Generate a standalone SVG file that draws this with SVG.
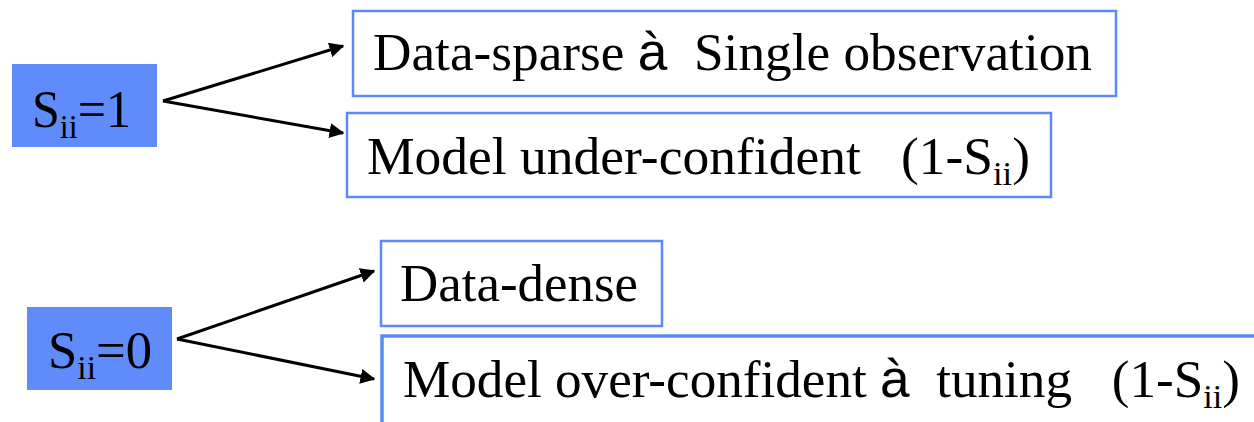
<svg xmlns="http://www.w3.org/2000/svg" width="1254" height="422" viewBox="0 0 1254 422">
<style>
.t{font-family:"Liberation Serif","Times New Roman",serif;font-size:53px;fill:#000}
.a{font-family:"Liberation Sans",Arial,sans-serif}
.sub{font-size:34px}
.src{fill:#5f8cfa;stroke:none}
.box{fill:#fff;stroke:#5b8af5;stroke-width:2.5}
.c{stroke:#000;stroke-width:3;fill:none;marker-end:url(#ah)}
</style>
<defs>
<marker id="ah" viewBox="0 0 10 10" refX="9" refY="5" markerWidth="5" markerHeight="5" orient="auto" markerUnits="strokeWidth">
<path d="M0,0 L10,5 L0,10 z" fill="#000"/>
</marker>
</defs>
<g id="connectors">
<path class="c" d="M163,101 L343,46"/>
<path class="c" d="M163,101 L343,133"/>
<path class="c" d="M177,339 L374,271"/>
<path class="c" d="M177,339 L374,379"/>
</g>
<g id="s1">
<rect class="src" x="12" y="64" width="145" height="83"/>
<text class="t" x="32" y="127" textLength="99" lengthAdjust="spacingAndGlyphs">S<tspan class="sub" dy="11">ii</tspan><tspan dy="-11">=1</tspan></text>
</g>
<g id="sparse">
<rect class="box" x="353" y="11" width="763" height="85"/>
<text class="t" x="373" y="70" xml:space="preserve" textLength="719" lengthAdjust="spacingAndGlyphs">Data-sparse <tspan class="a">à</tspan>  Single observation</text>
</g>
<g id="under">
<rect class="box" x="347" y="113" width="704" height="84"/>
<text class="t" x="367" y="174" xml:space="preserve" textLength="663" lengthAdjust="spacingAndGlyphs">Model under-confident   (1-S<tspan class="sub" dy="11">ii</tspan><tspan dy="-11">)</tspan></text>
</g>
<g id="s0">
<rect class="src" x="27" y="307" width="145" height="83"/>
<text class="t" x="48" y="368" textLength="104" lengthAdjust="spacingAndGlyphs">S<tspan class="sub" dy="11">ii</tspan><tspan dy="-11">=0</tspan></text>
</g>
<g id="dense">
<rect class="box" x="381" y="241" width="281" height="85"/>
<text class="t" x="400" y="301" textLength="238" lengthAdjust="spacingAndGlyphs">Data-dense</text>
</g>
<g id="over">
<rect class="box" x="382" y="336" width="880" height="100" style="stroke-width:3.5"/>
<text class="t" x="403" y="397" xml:space="preserve" textLength="837" lengthAdjust="spacingAndGlyphs">Model over-confident <tspan class="a">à</tspan>  tuning   (1-S<tspan class="sub" dy="11">ii</tspan><tspan dy="-11">)</tspan></text>
</g>
</svg>
